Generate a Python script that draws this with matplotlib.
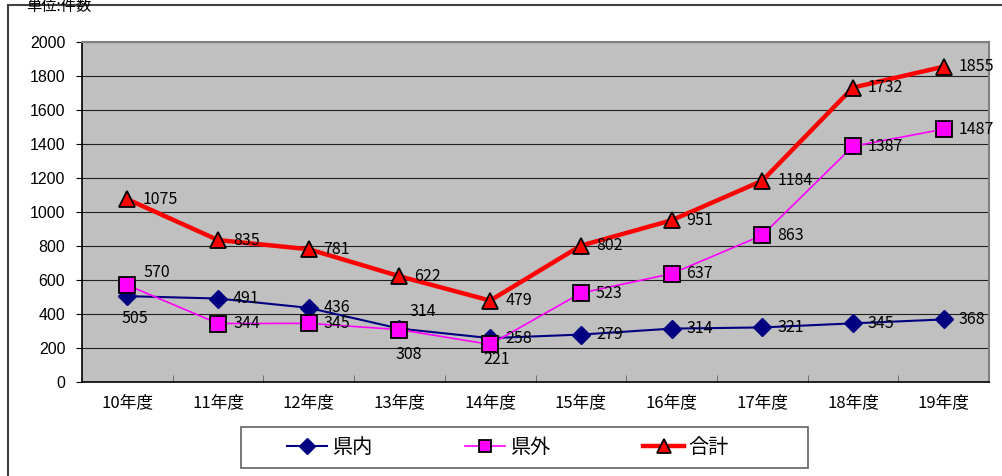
import matplotlib
matplotlib.use("Agg")
import matplotlib.pyplot as plt
from matplotlib.patches import Rectangle

plt.rcParams['font.family'] = ['Noto Sans CJK JP', 'DejaVu Sans']

years = ['10年度', '11年度', '12年度', '13年度', '14年度',
         '15年度', '16年度', '17年度', '18年度', '19年度']
kennai = [505, 491, 436, 314, 258, 279, 314, 321, 345, 368]
kengai = [570, 344, 345, 308, 221, 523, 637, 863, 1387, 1487]
goukei = [1075, 835, 781, 622, 479, 802, 951, 1184, 1732, 1855]

W, H = 1002, 476
fig = plt.figure(figsize=(W/100, H/100), dpi=100)
ax = fig.add_axes([82/W, 1-382/H, 907/W, 340/H])
ax.set_facecolor('#C0C0C0')

x = list(range(len(years)))
ax.plot(x, kennai, color='#000080', lw=1.5, marker='D', ms=9,
        mfc='#000080', mec='#000080', label='県内', zorder=3)
ax.plot(x, kengai, color='#FF00FF', lw=1.2, marker='s', ms=11,
        mfc='#FF00FF', mec='black', mew=1.3, label='県外', zorder=4)
ax.plot(x, goukei, color='#FF0000', lw=3.2, marker='^', ms=12,
        mfc='#FF0000', mec='black', mew=1.3, label='合計', zorder=5)

# data labels (offsets in pixels), special placements where the original moved them
special = {
    ('kennai', 0): (8, -22, 'center'),
    ('kennai', 3): (10, 17, 'left'),
    ('kengai', 0): (16, 13, 'left'),
    ('kengai', 3): (9, -25, 'center'),
    ('kengai', 4): (6, -15, 'center'),
}
for name, vals in [('kennai', kennai), ('kengai', kengai), ('goukei', goukei)]:
    for i, v in enumerate(vals):
        dx, dy, ha = special.get((name, i), (15, 0, 'left'))
        ax.annotate(str(v), (i, v), xytext=(dx, dy), textcoords='offset pixels',
                    ha=ha, va='center', fontsize=11.5, color='black', zorder=6)

ax.set_xlim(-0.5, len(years) - 0.5)
ax.set_ylim(0, 2000)
ax.set_yticks(range(0, 2001, 200))
ax.set_yticklabels([str(v) for v in range(0, 2001, 200)],
                   fontsize=11.5, family=['Liberation Sans', 'DejaVu Sans'])
ax.set_xticks(x)
ax.set_xticklabels(years, fontsize=12)
ax.set_xticks([i + 0.5 for i in x[:-1]], minor=True)
ax.tick_params(axis='x', which='major', length=0, pad=9)
ax.tick_params(axis='x', which='minor', direction='in', length=5, color='#606060')
ax.tick_params(axis='y', length=4, pad=8)
ax.yaxis.grid(True, color='#202020', lw=0.8)
ax.set_axisbelow(True)
for s in ['top', 'right']:
    ax.spines[s].set_color('#808080')
    ax.spines[s].set_linewidth(1.5)
for s in ['left', 'bottom']:
    ax.spines[s].set_color('black')
    ax.spines[s].set_linewidth(1.2)

# legend box drawn separately, entries placed inside
fig.patches.append(Rectangle((241/W, 1-468/H), 567/W, 41/H, transform=fig.transFigure,
                             fill=False, edgecolor='#606060', lw=1.2))
leg = fig.legend(loc='center left', bbox_to_anchor=(287/W, 1-447.5/H),
                 ncol=3, fontsize=14.5, frameon=False, handlelength=2.0,
                 handletextpad=0.25, columnspacing=4.6, borderpad=0,
                 borderaxespad=0, markerscale=0.85)

# outer chart border
fig.patches.append(Rectangle((8/W, -0.1), 1.1, 1 - 5/H + 0.1, transform=fig.transFigure,
                             fill=False, edgecolor='#404040', lw=1.5))
fig.text(26/W, 1 + 2/H, '単位:件数', fontsize=11, va='top', ha='left')

fig.savefig('out.png', dpi=100)
